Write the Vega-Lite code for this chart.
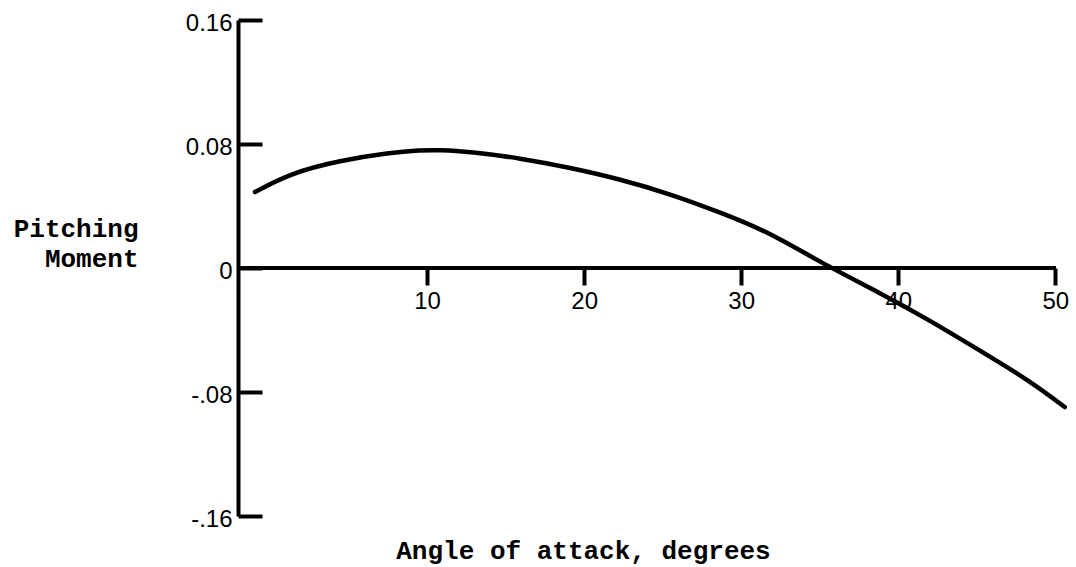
{
  "$schema": "https://vega.github.io/schema/vega-lite/v6.json",
  "width": 833,
  "height": 496,
  "autosize": {"type": "none"},
  "padding": {"left": 238, "top": 20, "right": 5, "bottom": 51},
  "background": "white",
  "config": {"view": {"stroke": null}},
  "data": {
    "values": [
      {"angle": -0.96, "moment": 0.0490},
      {"angle": 1.27, "moment": 0.0611},
      {"angle": 4.46, "moment": 0.0694},
      {"angle": 7.64, "moment": 0.0744},
      {"angle": 9.55, "moment": 0.0760},
      {"angle": 10.83, "moment": 0.0762},
      {"angle": 12.74, "moment": 0.0749},
      {"angle": 15.92, "moment": 0.0709},
      {"angle": 19.11, "moment": 0.0647},
      {"angle": 22.29, "moment": 0.0573},
      {"angle": 25.48, "moment": 0.0478},
      {"angle": 28.66, "moment": 0.0359},
      {"angle": 31.85, "moment": 0.0228},
      {"angle": 35.03, "moment": 0.0036},
      {"angle": 38.9, "moment": -0.0163},
      {"angle": 42.0, "moment": -0.0338},
      {"angle": 45.2, "moment": -0.0533},
      {"angle": 48.4, "moment": -0.0729},
      {"angle": 50.6, "moment": -0.0897}
    ]
  },
  "layer": [
    {
      "mark": {"type": "rule", "color": "black", "strokeWidth": 4},
      "encoding": {
        "x": {"datum": -2.04, "type": "quantitative"},
        "x2": {"datum": 50},
        "y": {"datum": 0, "type": "quantitative"}
      }
    },
    {
      "mark": {"type": "line", "color": "black", "strokeWidth": 4.5, "strokeCap": "round", "interpolate": "basis"},
      "encoding": {
        "x": {
          "field": "angle",
          "type": "quantitative",
          "scale": {"domain": [-2.04, 51], "nice": false, "zero": false},
          "axis": {
            "orient": "bottom",
            "offset": -248,
            "values": [10, 20, 30, 40, 50],
            "domain": false,
            "grid": false,
            "ticks": true,
            "tickSize": 17,
            "tickWidth": 4,
            "tickColor": "black",
            "labelFont": "Liberation Sans",
            "labelFontSize": 24,
            "labelColor": "black",
            "labelPadding": 4,
            "title": "Angle of attack, degrees",
            "titleFont": "Liberation Mono",
            "titleFontSize": 26,
            "titleFontWeight": "bold",
            "titleColor": "black",
            "titleX": 345,
            "titleY": 282,
            "titleAlign": "center",
            "titleBaseline": "middle",
            "titleAnchor": null
          }
        },
        "y": {
          "field": "moment",
          "type": "quantitative",
          "scale": {"domain": [-0.16, 0.16], "nice": false, "zero": false},
          "axis": {
            "orient": "left",
            "values": [-0.16, -0.08, 0, 0.08, 0.16],
            "labelExpr": "datum.value > 0.1 ? '0.16' : datum.value > 0.04 ? '0.08' : datum.value > -0.04 ? '0' : datum.value > -0.1 ? '-.08' : '-.16'",
            "grid": false,
            "domain": true,
            "domainColor": "black",
            "domainWidth": 4,
            "ticks": true,
            "tickSize": -24,
            "tickWidth": 4,
            "tickColor": "black",
            "labelFont": "Liberation Sans",
            "labelFontSize": 24,
            "labelColor": "black",
            "labelPadding": 30,
            "labelOffset": 3,
            "title": ["Pitching", "Moment"],
            "titleFont": "Liberation Mono",
            "titleFontSize": 26,
            "titleFontWeight": "bold",
            "titleColor": "black",
            "titleAngle": 0,
            "titleX": -100,
            "titleY": 208,
            "titleAlign": "right",
            "titleBaseline": "middle",
            "titleLineHeight": 30,
            "titleAnchor": null
          }
        }
      }
    }
  ]
}
